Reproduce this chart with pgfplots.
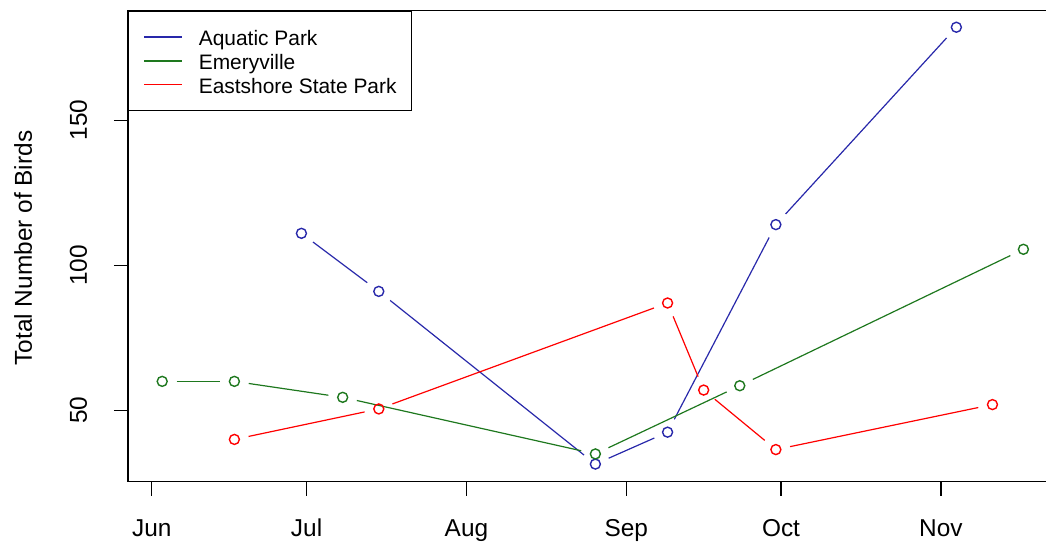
\documentclass[border=0pt]{standalone}
\usepackage{fontspec}
\setmainfont{Liberation Sans}
\usepackage{pgfplots}
\pgfplotsset{compat=1.18}
\usepackage{pgfplotstable}

\definecolor{aqblue}{RGB}{40,40,170}
\definecolor{emgreen}{RGB}{30,120,30}
\definecolor{esred}{RGB}{255,0,0}

% survey day (days after 1 June) and total number of birds counted
\pgfplotstableread{
day birds
29  111
44  91
86  31.5
100 42.5
121 114
156 182
}\aquatic
\pgfplotstableread{
day birds
2   60
16  60
37  54.5
86  35
114 58.5
169 105.5
}\emeryville
\pgfplotstableread{
day birds
16  40
44  50.5
100 87
107 57
121 36.5
163 52
}\eastshore

\pgfplotsset{
  % one line piece between survey #1 and #1+1, cut back at both circles
  seg/.style 2 args={forget plot, no marks, line width=1.2bp,
    shorten <=14.5bp, shorten >=14.5bp,
    skip coords between index={0}{#1}, skip coords between index={#2}{6}},
  pts/.style={only marks, forget plot, mark=o, mark size=5bp,
    mark options={line width=1.4bp}},
}

\begin{document}
\begin{tikzpicture}
\begin{axis}[
  name=ax,
  scale only axis, width=929.8bp, height=471.1bp,
  xmin=-4.65, xmax=175.65, ymin=25.4, ymax=187.7,
  axis line style={black, line width=1.3bp},
  xtick={0,30,61,92,122,153},
  xticklabels={Jun,Jul,Aug,Sep,Oct,Nov},
  ytick={50,100,150},
  xtick pos=bottom, ytick pos=left,
  tick align=outside, major tick length=14bp,
  tick style={black, line width=1.2bp},
  ticklabel style={font=\fontsize{24.5}{29}\selectfont},
  /pgf/number format/assume math mode=true,
  xticklabel style={anchor=base, inner sep=0pt},
  xticklabel shift=40.9bp,
  yticklabel style={xshift=-5bp, rotate=90, anchor=base, inner sep=0pt},
  yticklabel shift=22bp,
  ylabel={Total Number of Birds},
  ylabel style={at={(axis description cs:-0.10325,0.4963)}, anchor=base,
    inner sep=0pt, font=\fontsize{24.5}{29}\selectfont},
  legend style={at={(0,1)}, anchor=north west, draw=black, line width=1.3bp,
    fill=white, inner xsep=15bp, inner ysep=13.8bp, row sep=0bp,
    font=\fontsize{21}{25}\selectfont,
    nodes={inner sep=0pt, text height=20.5bp, text depth=3.35bp},
    /tikz/every odd column/.append style={column sep=16bp}},
  legend cell align=left,
  legend image code/.code={\draw[#1, line width=1.3bp] (0bp,0bp) -- (38bp,0bp);},
]
\addlegendimage{aqblue}
\addlegendentry{Aquatic Park}
\addlegendimage{emgreen}
\addlegendentry{Emeryville}
\addlegendimage{esred}
\addlegendentry{Eastshore State Park}

% Aquatic Park
\addplot[aqblue, seg={0}{2}] table[x=day, y=birds] {\aquatic};
\addplot[aqblue, seg={1}{3}] table[x=day, y=birds] {\aquatic};
\addplot[aqblue, seg={2}{4}] table[x=day, y=birds] {\aquatic};
\addplot[aqblue, seg={3}{5}] table[x=day, y=birds] {\aquatic};
\addplot[aqblue, seg={4}{6}] table[x=day, y=birds] {\aquatic};
\addplot[aqblue, pts] table[x=day, y=birds] {\aquatic};

% Emeryville
\addplot[emgreen, seg={0}{2}] table[x=day, y=birds] {\emeryville};
\addplot[emgreen, seg={1}{3}] table[x=day, y=birds] {\emeryville};
\addplot[emgreen, seg={2}{4}] table[x=day, y=birds] {\emeryville};
\addplot[emgreen, seg={3}{5}] table[x=day, y=birds] {\emeryville};
\addplot[emgreen, seg={4}{6}] table[x=day, y=birds] {\emeryville};
\addplot[emgreen, pts] table[x=day, y=birds] {\emeryville};

% Eastshore State Park
\addplot[esred, seg={0}{2}] table[x=day, y=birds] {\eastshore};
\addplot[esred, seg={1}{3}] table[x=day, y=birds] {\eastshore};
\addplot[esred, seg={2}{4}] table[x=day, y=birds] {\eastshore};
\addplot[esred, seg={3}{5}] table[x=day, y=birds] {\eastshore};
\addplot[esred, seg={4}{6}] table[x=day, y=birds] {\eastshore};
\addplot[esred, pts] table[x=day, y=birds] {\eastshore};
\end{axis}
\pgfresetboundingbox
\path[use as bounding box] ([xshift=-127.9bp,yshift=-64.2bp]ax.south west)
  rectangle ([xshift=918.1bp,yshift=481.8bp]ax.south west);
\end{tikzpicture}
\end{document}
